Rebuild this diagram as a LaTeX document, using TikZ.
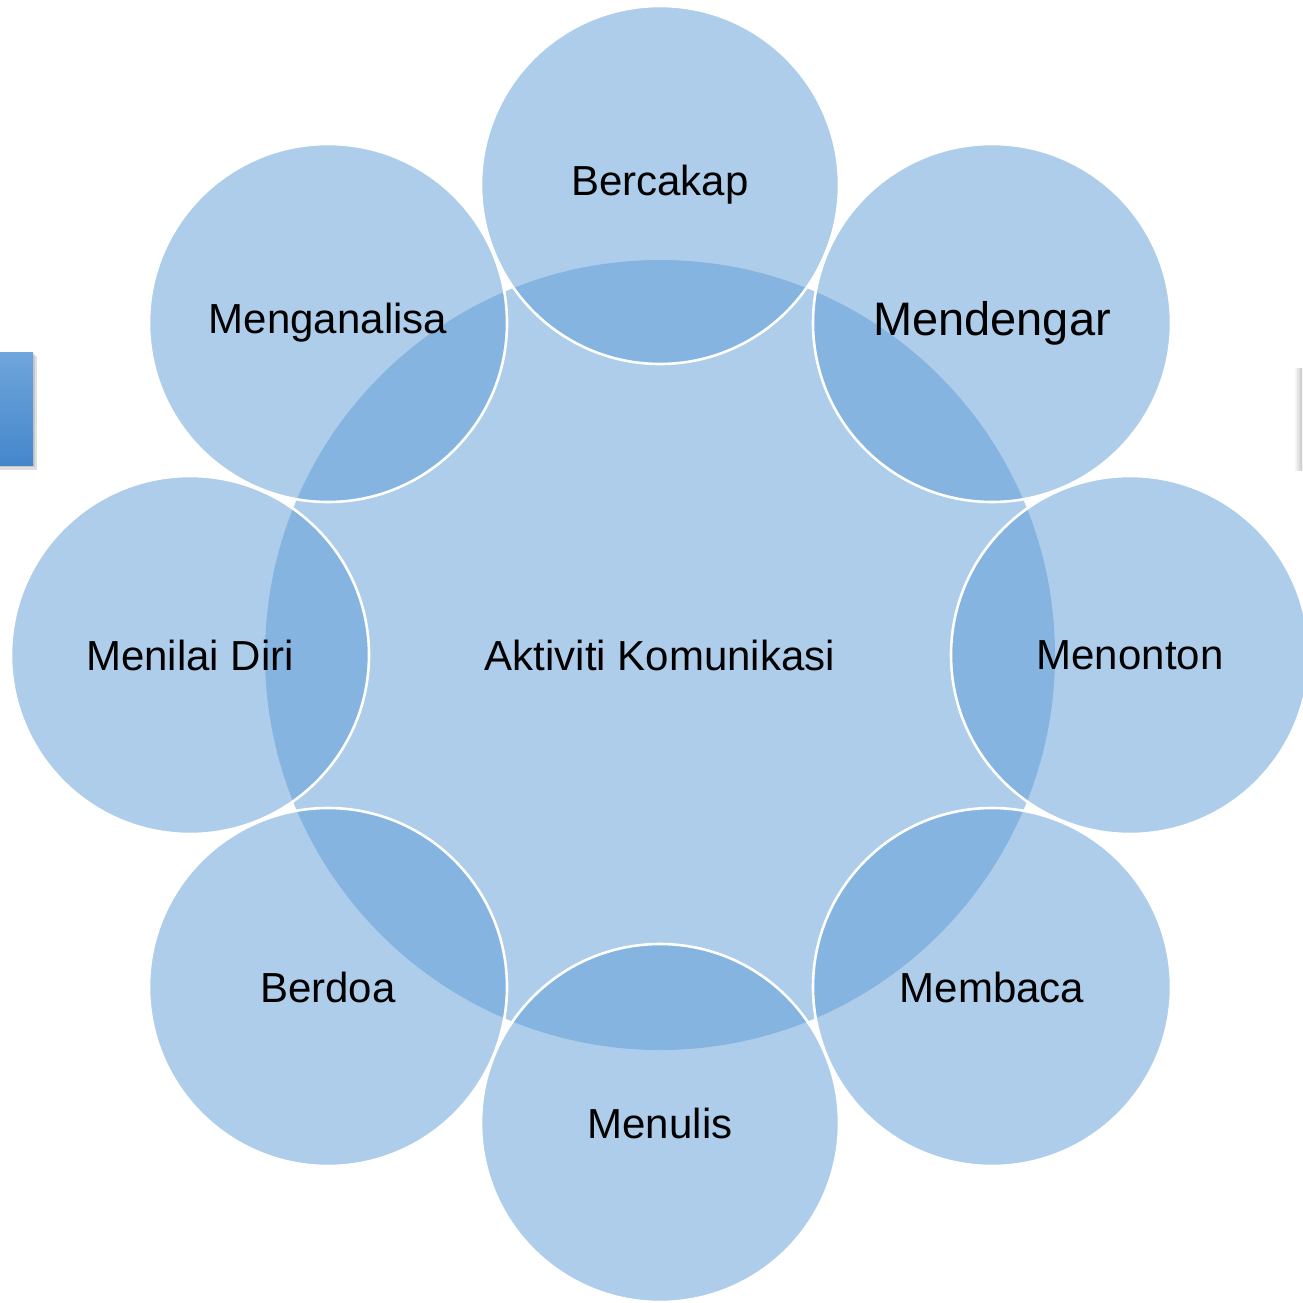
\documentclass[tikz,border=0pt]{standalone}
\usepackage{fontspec}
\setmainfont{Liberation Sans}
\usetikzlibrary{shadows,fadings}
\definecolor{accent}{HTML}{5B9BD5}
\definecolor{barTop}{HTML}{6FA6DC}
\definecolor{barBot}{HTML}{4586CB}
\begin{document}
\begin{tikzpicture}[x=1pt,y=-1pt,
  hub/.style={circle,fill=accent,fill opacity=0.5,draw=none,minimum size=790pt,inner sep=0pt,
    text opacity=1,font=\fontsize{42}{50}\selectfont},
  petal/.style={circle,fill=accent,fill opacity=0.5,draw=white,draw opacity=1,line width=2.6pt,
    minimum size=358pt,inner sep=0pt,text opacity=1,font=\fontsize{42}{50}\selectfont}]
\useasboundingbox (0,0) rectangle (1302,1303);
% side tab on the left edge, with a soft drop shadow
\fill[black!25,opacity=0.5] (0,356) rectangle (37,470);
\fill[black!30,opacity=0.5] (0,354) rectangle (35,467);
\shade[top color=barTop,bottom color=barBot] (0,352) rectangle (33,465);
% faint edge shadow at the right
\shade[left color=white,right color=black!22] (1294,368) rectangle (1302,470);
% central circle
\node[hub] (hub) at (660,655) {Aktiviti Komunikasi};
% surrounding circles
\node[petal] (c1) at (660,185) {Bercakap};
\node[petal,font=\fontsize{47}{56}\selectfont] (c2) at (992,323) {Mendengar};
\node[petal] (c3) at (1130,655) {Menonton};
\node[petal] (c4) at (992,987) {Membaca};
\node[petal] (c5) at (660,1123) {Menulis};
\node[petal] (c6) at (328,987) {Berdoa};
\node[petal] (c7) at (190,655) {Menilai Diri};
\node[petal] (c8) at (328,323) {Menganalisa};
\end{tikzpicture}
\end{document}
